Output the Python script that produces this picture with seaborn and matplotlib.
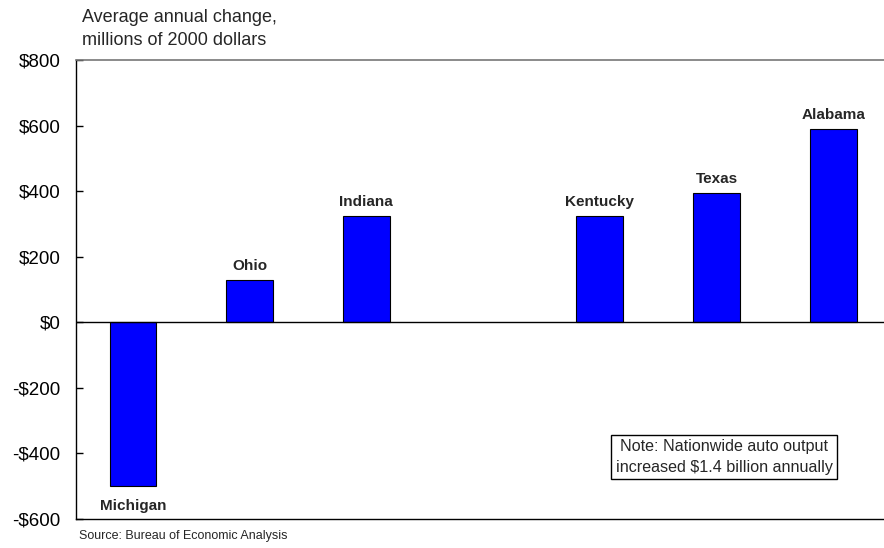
import matplotlib
matplotlib.use("Agg")
import matplotlib.pyplot as plt
import seaborn as sns
import pandas as pd

states = ["Michigan", "Ohio", "Indiana", "Kentucky", "Texas", "Alabama"]
values = [-500, 130, 325, 325, 395, 590]
order = ["Michigan", "Ohio", "Indiana", " ", "Kentucky", "Texas", "Alabama"]
yticks = [-600, -400, -200, 0, 200, 400, 600, 800]
ytick_labels = ["-$600", "-$400", "-$200", "$0", "$200", "$400", "$600", "$800"]
title_text = "Average annual change,\nmillions of 2000 dollars"
note_text = "Note: Nationwide auto output\nincreased $1.4 billion annually"
source_text = "Source: Bureau of Economic Analysis"

sns.set_theme(style="white")
plt.rcParams["font.family"] = ["Liberation Sans", "DejaVu Sans"]

W, H = 884, 548
fig = plt.figure(figsize=(W / 100, H / 100), dpi=100)
left, right, top, bottom = 75.7, 884, 60, 519
ax = fig.add_axes([left / W, (H - bottom) / H, (right - left) / W, (bottom - top) / H])

df = pd.DataFrame({"state": states, "value": values})
sns.barplot(data=df, x="state", y="value", order=order, color="#0000FF",
            saturation=1, width=0.4, edgecolor="black", linewidth=0.8, ax=ax)

ax.set_xlim(-0.49, 6.435)
ax.set_ylim(-600, 800)
ax.set_yticks(yticks)
ax.set_yticklabels(ytick_labels, fontsize=13.5, color="black")
ax.set_xticks([])
ax.set_xlabel("")
ax.set_ylabel("")
ax.tick_params(axis="y", direction="in", length=5, width=1, color="black", pad=11, left=True)
ax.axhline(0, color="black", linewidth=1)

for s in ["left", "bottom"]:
    ax.spines[s].set_color("black")
    ax.spines[s].set_linewidth(1)
ax.spines["top"].set_color("#777777")
ax.spines["top"].set_linewidth(1.2)
ax.spines["right"].set_visible(False)

for st, v in zip(states, values):
    i = order.index(st)
    if v >= 0:
        ax.text(i, v + 20, st, ha="center", va="bottom", fontsize=11, fontweight="bold")
    else:
        ax.text(i, v - 60, st, ha="center", va="center", fontsize=11, fontweight="bold")

fig.text(82 / W, 1 - 29 / H, title_text, ha="left", va="center", fontsize=13,
         linespacing=1.5)
fig.text(79 / W, 1 - 536 / H, source_text, ha="left", va="center", fontsize=9)
fig.text(724 / W, 1 - 457 / H, note_text, ha="center", va="center", fontsize=11.6,
         linespacing=1.45,
         bbox=dict(boxstyle="square,pad=0.25", facecolor="white", edgecolor="black", linewidth=1))

fig.savefig("out.png", dpi=100)
